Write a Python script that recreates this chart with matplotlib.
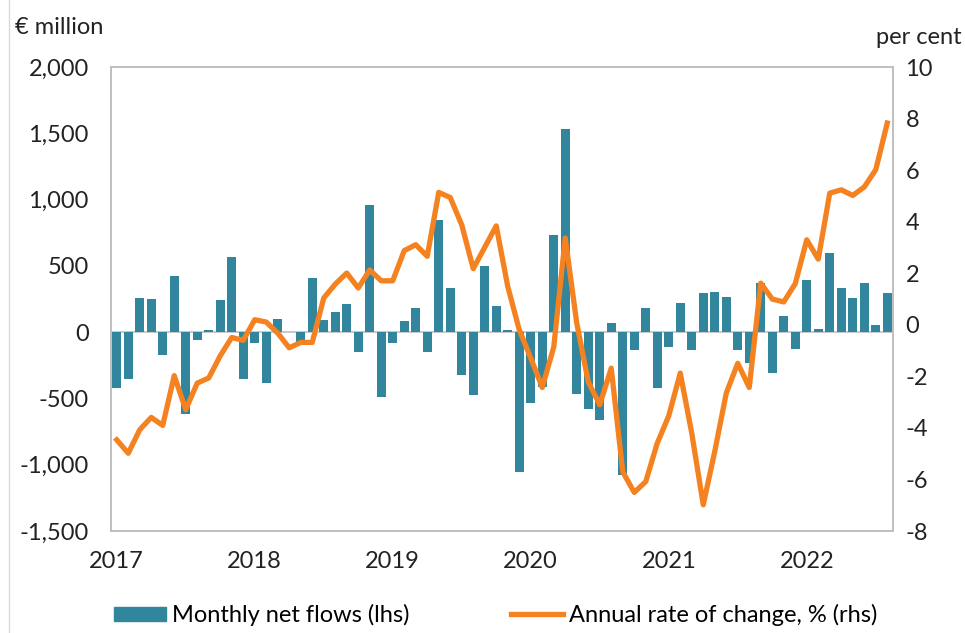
import matplotlib.pyplot as plt
import numpy as np
from matplotlib.lines import Line2D

plt.rcParams['font.family'] = ['Lato', 'DejaVu Sans']
plt.rcParams['axes.unicode_minus'] = False

# monthly data Jan 2017 - Aug 2022
net_flows = [-419, -351, 258, 250, -175, 421, -620, -59, 14, 240, 567, -351,
             -79, -386, 102, 0, -77, 410, 94, 150, 210, -147, 963, -486,
             -79, 82, 183, -147, 846, 333, -320, -476, 499, 197, 16, -1057,
             -534, -415, 730, 1532, -466, -582, -660, 72, -1075, -137, 183, -419,
             -109, 220, -137, 295, 305, 268, -137, -232, 373, -310, 122, -127,
             393, 26, 597, 333, 258, 373, 54, 295]
annual_rate = [-4.46, -4.98, -4.07, -3.59, -3.90, -1.97, -3.29, -2.26, -2.06, -1.20, -0.49, -0.60,
               0.20, 0.11, -0.32, -0.89, -0.68, -0.68, 1.04, 1.58, 2.01, 1.43, 2.13, 1.71,
               1.71, 2.88, 3.11, 2.66, 5.14, 4.94, 3.88, 2.18, 3.01, 3.84, 1.49, -0.19,
               -1.29, -2.43, -0.86, 3.37, 0.07, -2.21, -3.10, -1.68, -5.70, -6.50, -6.08, -4.59,
               -3.53, -1.87, -4.20, -6.98, -4.91, -2.65, -1.49, -2.43, 1.62, 1.00, 0.89, 1.60,
               3.30, 2.55, 5.11, 5.24, 5.02, 5.35, 6.02, 7.83]
years = ["2017", "2018", "2019", "2020", "2021", "2022"]

bar_color = "#31859C"
line_color = "#F58220"
grey = "#BFBFBF"

x = np.arange(len(net_flows))

fig = plt.figure(figsize=(9.65, 6.33), dpi=100)
ax = fig.add_axes([0.115, 0.161, 0.8104, 0.733])
ax2 = ax.twinx()

ax.bar(x, net_flows, width=0.75, color=bar_color, zorder=2)
ax.axhline(0, color=grey, lw=1.2, zorder=1)
ax.set_ylim(-1500, 2000)
ax.set_yticks(np.arange(-1500, 2001, 500))
ax.set_yticklabels([f"{v:,}" for v in range(-1500, 2001, 500)])
ax.set_xlim(-0.5, len(net_flows) - 0.5)
ax.set_xticks(np.arange(0, len(net_flows), 12))
ax.set_xticklabels(years)

ax2.plot(x, annual_rate, color=line_color, lw=3.8, zorder=3)
ax2.set_ylim(-8, 10)
ax2.set_yticks(np.arange(-8, 11, 2))

for a in (ax, ax2):
    for s in a.spines.values():
        s.set_color(grey)
        s.set_linewidth(1.2)
ax.tick_params(axis='y', length=0, pad=16, labelsize=17, colors='#222222')
ax.tick_params(axis='x', length=0, pad=14, labelsize=17, colors='#222222')
ax2.tick_params(axis='y', length=0, pad=9, labelsize=17, colors='#222222')

fig.text(15 / 965, 1 - 28 / 633, "€ million", fontsize=17, va='center', ha='left', color='#222222')
fig.text(962 / 965, 1 - 38 / 633, "per cent", fontsize=17, va='center', ha='right', color='#222222')

# legend
handles = [plt.Rectangle((0, 0), 1, 1, color=bar_color),
           Line2D([0], [0], color=line_color, lw=3.8)]
fig.legend(handles, ["Monthly net flows (lhs)", "Annual rate of change, % (rhs)"],
           loc='center', bbox_to_anchor=(0.5135, 1 - 615 / 633), ncol=2, frameon=False,
           fontsize=17, handlelength=2.2, handleheight=0.55, handletextpad=0.25,
           columnspacing=4.3)

fig.add_artist(Line2D([9 / 965, 9 / 965], [0, 1], color='#D9D9D9', lw=1))

fig.savefig("out.png", dpi=100)
